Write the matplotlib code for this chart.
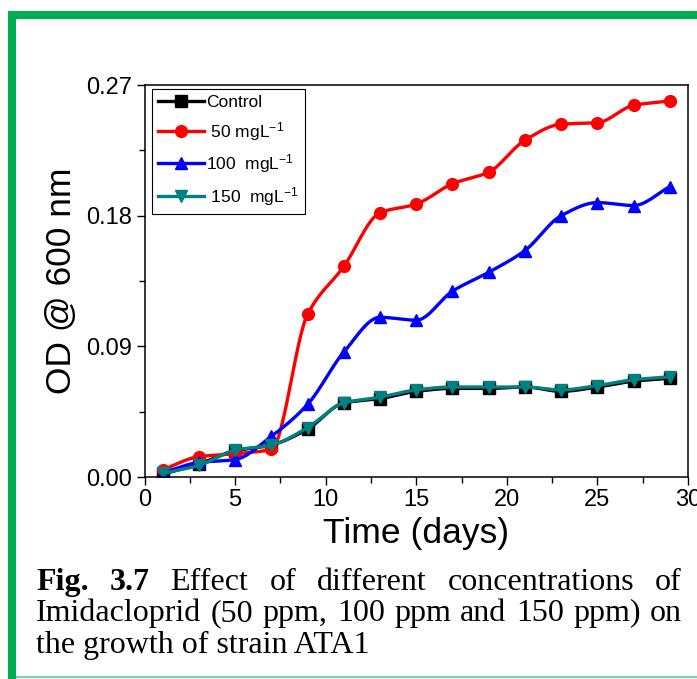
import numpy as np
import matplotlib
matplotlib.use("Agg")
import matplotlib.pyplot as plt
from matplotlib.patches import Rectangle
from matplotlib.ticker import MultipleLocator

plt.rcParams['font.family'] = ['Liberation Sans', 'DejaVu Sans']
plt.rcParams['mathtext.fontset'] = 'custom'
plt.rcParams['mathtext.rm'] = 'Liberation Sans'
plt.rcParams['mathtext.it'] = 'Liberation Sans:italic'

# OD readings every two days
days = [1, 3, 5, 7, 9, 11, 13, 15, 17, 19, 21, 23, 25, 27, 29]
control = [0.002, 0.009, 0.018, 0.022, 0.033, 0.051, 0.054, 0.059, 0.061, 0.061, 0.062, 0.059, 0.062, 0.066, 0.068]
od_50 = [0.005, 0.014, 0.016, 0.019, 0.112, 0.145, 0.182, 0.188, 0.202, 0.210, 0.232, 0.243, 0.244, 0.256, 0.259]
od_100 = [0.003, 0.010, 0.012, 0.028, 0.050, 0.086, 0.110, 0.108, 0.128, 0.141, 0.156, 0.180, 0.189, 0.187, 0.200]
od_150 = [0.0025, 0.008, 0.0185, 0.022, 0.034, 0.051, 0.055, 0.060, 0.062, 0.062, 0.062, 0.060, 0.063, 0.067, 0.069]

labels = ["Control", " 50 mgL$^{-1}$", "100  mgL$^{-1}$", " 150  mgL$^{-1}$"]
colors = ["black", "#ff0000", "#0000ff", "#008080"]
markers = ["s", "o", "^", "v"]

caption1 = [("Fig.", "bold"), ("3.7", "bold"), ("Effect", "normal"), ("of", "normal"),
            ("different", "normal"), ("concentrations", "normal"), ("of", "normal")]
caption2 = "Imidacloprid (50 ppm, 100 ppm and 150 ppm) on"
caption3 = "the growth of strain ATA1"


def smooth(x, y, n=400):
    # monotone cubic (pchip) curve through the points
    x = np.asarray(x, float)
    y = np.asarray(y, float)
    h = np.diff(x)
    d = np.diff(y) / h
    m = np.zeros_like(y)
    m[0], m[-1] = d[0], d[-1]
    for k in range(1, len(x) - 1):
        if d[k - 1] * d[k] > 0:
            w1 = 2 * h[k] + h[k - 1]
            w2 = h[k] + 2 * h[k - 1]
            m[k] = (w1 + w2) / (w1 / d[k - 1] + w2 / d[k])
    xs = np.linspace(x[0], x[-1], n)
    i = np.clip(np.searchsorted(x, xs) - 1, 0, len(x) - 2)
    t = (xs - x[i]) / h[i]
    h00 = 2 * t**3 - 3 * t**2 + 1
    h10 = t**3 - 2 * t**2 + t
    h01 = -2 * t**3 + 3 * t**2
    h11 = t**3 - t**2
    ys = h00 * y[i] + h10 * h[i] * m[i] + h01 * y[i + 1] + h11 * h[i] * m[i + 1]
    return xs, ys


W, H = 697, 679
fig = plt.figure(figsize=(W / 100, H / 100), dpi=100)
ax = fig.add_axes([144.5 / W, (H - 477) / H, (688 - 144.5) / W, 392 / H])

for series, c, m, lab in zip([control, od_50, od_100, od_150], colors, markers, labels):
    xs, ys = smooth(days, series)
    ax.plot(xs, ys, color=c, lw=2.4)
    ax.plot(days, series, ls="none", marker=m, color=c, ms=8.5)
    # legend proxy
    ax.plot([], [], color=c, lw=2.4, marker=m, ms=8.5, label=lab)

ax.set_xlim(0, 30)
ax.set_ylim(0, 0.27)
ax.xaxis.set_major_locator(MultipleLocator(5))
ax.xaxis.set_minor_locator(MultipleLocator(2.5))
ax.yaxis.set_major_locator(MultipleLocator(0.09))
ax.yaxis.set_minor_locator(MultipleLocator(0.045))
ax.yaxis.set_major_formatter(matplotlib.ticker.FormatStrFormatter("%.2f"))
ax.tick_params(which="major", direction="out", length=6, width=1, labelsize=17, pad=3)
ax.tick_params(which="minor", direction="out", length=4, width=1)
for s in ax.spines.values():
    s.set_linewidth(1.1)

ax.set_xlabel("Time (days)", fontsize=25.5, labelpad=4)
ax.set_ylabel("OD @ 600 nm", fontsize=25.5, labelpad=6)

leg = ax.legend(loc="upper left", bbox_to_anchor=(0.0133, 0.9898), borderaxespad=0,
                fancybox=False, edgecolor="black", framealpha=1, fontsize=12.5,
                handlelength=2.65, handletextpad=0.15, labelspacing=0.55, borderpad=0.35)
leg.get_frame().set_linewidth(0.8)

# green page border
green = "#00b050"
fig.add_artist(Rectangle((8 / W, 0), 8 / W, 1 - 11 / H, transform=fig.transFigure, color=green, lw=0))
fig.add_artist(Rectangle((8 / W, 1 - 19 / H), 1, 8 / H, transform=fig.transFigure, color=green, lw=0))
fig.add_artist(Rectangle((16 / W, 1 - 678 / H), 1, 2 / H, transform=fig.transFigure, color="#70d89c", lw=0))

# caption, justified between x0 and x1
x0, x1 = 36, 682
cap_kw = dict(family="Liberation Serif", fontsize=23, va="baseline")


def justify(words, ybase):
    texts = [fig.text(0, 1 - ybase / H, w, fontweight=fw, **cap_kw) for w, fw in words]
    r = fig.canvas.get_renderer()
    widths = [t.get_window_extent(r).width for t in texts]
    gap = (x1 - x0 - sum(widths)) / (len(words) - 1)
    x = x0
    for t, w in zip(texts, widths):
        t.set_x(x / W)
        x += w + gap


fig.canvas.draw()
justify(caption1, 590)
justify([(w, "normal") for w in caption2.split()], 621)
fig.text(x0 / W, 1 - 653 / H, caption3, **cap_kw)

fig.savefig("out.png", dpi=100)
